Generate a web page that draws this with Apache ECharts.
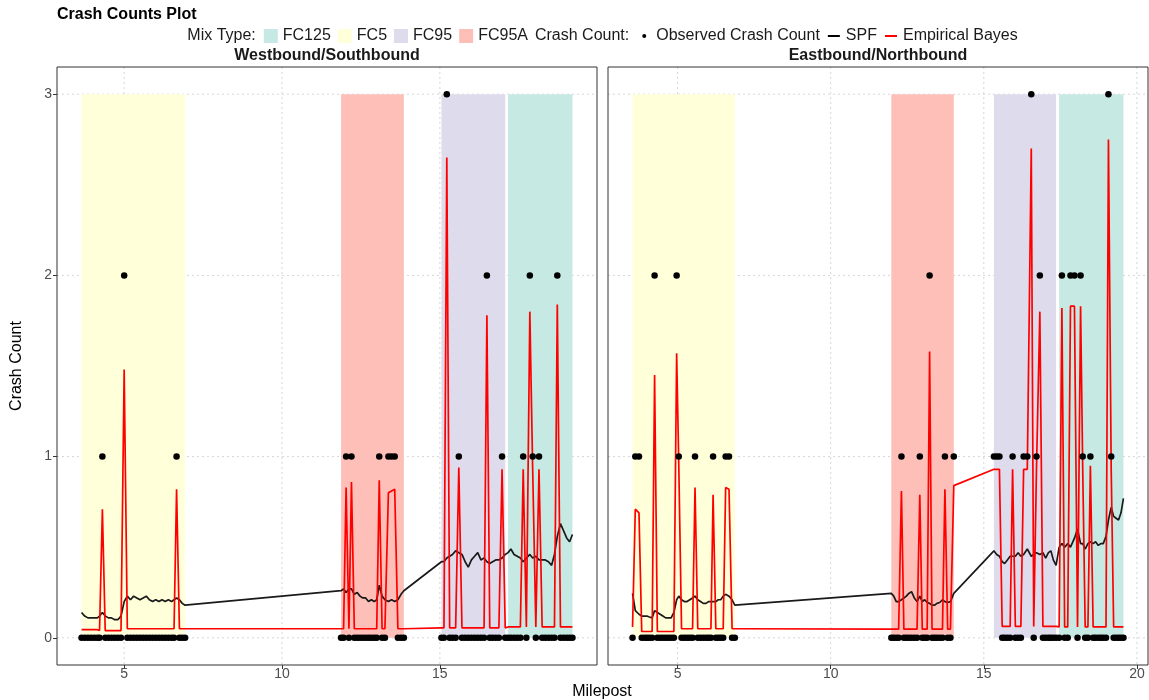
<!DOCTYPE html>
<html>
<head>
<meta charset="utf-8">
<script src="https://cdn.jsdelivr.net/npm/echarts@6/dist/echarts.min.js"></script>
<style>
  html, body { margin: 0; padding: 0; background: #ffffff; }
  #chart { width: 1149px; height: 700px; }
</style>
</head>
<body>
<div id="chart"></div>
<script>
// ---------- Westbound/Southbound ----------
const milepostWB = [
  3.65, 3.75, 3.85, 3.95, 4.05, 4.15, 4.22, 4.31, 4.40, 4.50, 4.60, 4.70, 4.80, 4.90, 5.00, 5.10, 5.20, 5.30,
  5.40, 5.50, 5.60, 5.70, 5.80, 5.90, 6.00, 6.10, 6.20, 6.30, 6.40, 6.50, 6.58, 6.66, 6.75, 6.84, 6.93,
  11.87, 11.95, 12.03, 12.12, 12.20, 12.29, 12.38, 12.47, 12.56, 12.65, 12.74, 12.83, 12.92, 13.00, 13.08,
  13.17, 13.26, 13.37, 13.47, 13.57, 13.67, 13.77, 13.86,
  15.05, 15.13, 15.22, 15.31, 15.40, 15.50, 15.60, 15.70, 15.80, 15.90, 16.00, 16.10, 16.20, 16.30, 16.40,
  16.49, 16.58, 16.67, 16.77, 16.87, 16.97, 17.07,
  17.16, 17.25, 17.35, 17.45, 17.55, 17.64, 17.74, 17.85, 17.94, 18.04, 18.14, 18.24, 18.34, 18.44, 18.54,
  18.63, 18.72, 18.82, 18.92, 19.02, 19.11, 19.20
];
const observedWB = [
  0, 0, 0, 0, 0, 0, 0, 1, 0, 0, 0, 0, 0, 0, 2, 0, 0, 0,
  0, 0, 0, 0, 0, 0, 0, 0, 0, 0, 0, 0, 0, 1, 0, 0, 0,
  0, 0, 1, 0, 1, 0, 0, 0, 0, 0, 0, 0, 0, 0, 1,
  0, 0, 1, 1, 1, 0, 0, 0,
  0, 0, 3, 0, 0, 0, 1, 0, 0, 0, 0, 0, 0, 0, 0,
  2, 0, 0, 0, 0, 1, 0,
  0, 0, 0, 0, 0, 1, 0, 2, 1, 0, 1, 0, 0, 0, 0,
  0, 2, 0, 0, 0, 0, 0
];
const spfWB = [
  0.14, 0.12, 0.11, 0.11, 0.11, 0.11, 0.12, 0.14, 0.12, 0.11, 0.11, 0.10, 0.10, 0.12, 0.20, 0.23, 0.21, 0.23,
  0.22, 0.21, 0.22, 0.23, 0.21, 0.20, 0.21, 0.20, 0.21, 0.20, 0.21, 0.20, 0.21, 0.22, 0.21, 0.19, 0.18,
  0.26, 0.27, 0.25, 0.27, 0.27, 0.24, 0.25, 0.23, 0.22, 0.22, 0.20, 0.21, 0.20, 0.21, 0.29,
  0.23, 0.21, 0.20, 0.21, 0.20, 0.21, 0.24, 0.26,
  0.42, 0.42, 0.44, 0.45, 0.46, 0.48, 0.47, 0.46, 0.42, 0.39, 0.43, 0.45, 0.47, 0.43, 0.44,
  0.42, 0.41, 0.42, 0.43, 0.43, 0.44, 0.46,
  0.47, 0.49, 0.46, 0.45, 0.44, 0.42, 0.44, 0.46, 0.44, 0.45, 0.43, 0.43, 0.43, 0.42, 0.40,
  0.46, 0.56, 0.63, 0.59, 0.55, 0.53, 0.57
];
const ebWB = [
  0.045, 0.045, 0.045, 0.045, 0.045, 0.045, 0.04, 0.71, 0.04, 0.04, 0.04, 0.04, 0.04, 0.04, 1.48, 0.05, 0.05, 0.05,
  0.05, 0.05, 0.05, 0.05, 0.05, 0.05, 0.05, 0.05, 0.05, 0.05, 0.05, 0.05, 0.05, 0.82, 0.05, 0.05, 0.05,
  0.05, 0.05, 0.83, 0.05, 0.86, 0.05, 0.05, 0.05, 0.05, 0.05, 0.05, 0.05, 0.05, 0.05, 0.87,
  0.05, 0.05, 0.80, 0.81, 0.82, 0.05, 0.05, 0.05,
  0.055, 0.055, 2.65, 0.055, 0.055, 0.055, 0.94, 0.055, 0.055, 0.055, 0.055, 0.055, 0.055, 0.055, 0.055,
  1.78, 0.055, 0.055, 0.055, 0.055, 0.93, 0.055,
  0.06, 0.06, 0.06, 0.06, 0.06, 0.93, 0.06, 1.80, 0.93, 0.06, 0.93, 0.06, 0.06, 0.06, 0.06,
  0.06, 1.84, 0.06, 0.06, 0.06, 0.06, 0.06
];
const mixTypeWB = ['FC5', 'FC95A', 'FC95', 'FC125'];
const mixFromWB = [3.65, 11.87, 15.05, 17.16];
const mixToWB = [6.93, 13.86, 17.07, 19.20];

// ---------- Eastbound/Northbound ----------
const milepostEB = [
  3.53, 3.62, 3.74, 3.83, 3.92, 4.00, 4.08, 4.17, 4.25, 4.34, 4.43, 4.52, 4.61, 4.70, 4.79, 4.88, 4.97, 5.04,
  5.13, 5.22, 5.31, 5.40, 5.49, 5.57, 5.66, 5.75, 5.84, 5.93, 6.01, 6.09, 6.16, 6.25, 6.33, 6.41, 6.49, 6.57,
  6.68, 6.78, 6.87,
  11.98, 12.06, 12.14, 12.22, 12.31, 12.39, 12.47, 12.55, 12.64, 12.73, 12.82, 12.91, 12.99, 13.07, 13.15,
  13.23, 13.31, 13.39, 13.47, 13.56, 13.65, 13.73, 13.82, 13.91, 14.02,
  15.33, 15.42, 15.51, 15.60, 15.68, 15.77, 15.86, 15.94, 16.03, 16.12, 16.21, 16.30, 16.42, 16.55, 16.63,
  16.72, 16.83, 16.93, 17.02, 17.11, 17.19, 17.27, 17.36,
  17.46, 17.55, 17.64, 17.74, 17.83, 17.96, 18.06, 18.16, 18.23, 18.31, 18.40, 18.48, 18.57, 18.65, 18.74,
  18.82, 18.90, 18.99, 19.07, 19.16, 19.24, 19.32, 19.40, 19.48, 19.56
];
const observedEB = [
  0, 1, 1, 0, 0, 0, 0, 0, 2, 0, 0, 0, 0, 0, 0, 0, 2, 1,
  0, 0, 0, 0, 0, 1, 0, 0, 0, 0, 0, 0, 1, 0, 0, 0, 0, 1,
  1, 0, 0,
  0, 0, 0, 0, 1, 0, 0, 0, 0, 0, 0, 1, 0, 0, 0,
  2, 0, 0, 0, 0, 0, 1, 0, 0, 1,
  1, 1, 1, 0, 0, 0, 0, 1, 0, 0, 0, 1, 1, 3, 0,
  1, 2, 0, 0, 0, 0, 0, 0,
  0, 2, 0, 0, 2, 2, 0, 2, 1, 0, 0, 1, 0, 0, 0,
  0, 0, 0, 3, 1, 0, 0, 0, 0, 0
];
const spfEB = [
  0.245, 0.15, 0.13, 0.12, 0.12, 0.12, 0.115, 0.11, 0.15, 0.14, 0.13, 0.12, 0.11, 0.11, 0.11, 0.14, 0.21, 0.23,
  0.21, 0.20, 0.20, 0.21, 0.22, 0.23, 0.21, 0.20, 0.19, 0.19, 0.20, 0.20, 0.20, 0.20, 0.21, 0.21, 0.23, 0.24,
  0.23, 0.21, 0.18,
  0.245, 0.23, 0.20, 0.20, 0.21, 0.22, 0.23, 0.245, 0.255, 0.22, 0.20, 0.23, 0.20, 0.21, 0.195,
  0.19, 0.18, 0.18, 0.19, 0.195, 0.21, 0.20, 0.195, 0.20, 0.245,
  0.48, 0.46, 0.45, 0.42, 0.41, 0.43, 0.45, 0.45, 0.45, 0.47, 0.45, 0.46, 0.49, 0.45, 0.46,
  0.47, 0.46, 0.47, 0.44, 0.47, 0.48, 0.43, 0.40,
  0.50, 0.52, 0.50, 0.52, 0.50, 0.55, 0.60, 0.52, 0.52, 0.49, 0.52, 0.53, 0.52, 0.53, 0.51,
  0.52, 0.52, 0.56, 0.65, 0.72, 0.67, 0.66, 0.65, 0.69, 0.77
];
const ebEB = [
  0.06, 0.71, 0.69, 0.035, 0.035, 0.035, 0.035, 0.035, 1.45, 0.035, 0.035, 0.035, 0.035, 0.035, 0.035, 0.035, 1.57, 0.95,
  0.05, 0.05, 0.05, 0.05, 0.05, 0.83, 0.05, 0.05, 0.05, 0.05, 0.05, 0.05, 0.79, 0.05, 0.05, 0.05, 0.05, 0.83,
  0.82, 0.05, 0.05,
  0.048, 0.048, 0.048, 0.048, 0.81, 0.048, 0.048, 0.048, 0.048, 0.048, 0.048, 0.79, 0.048, 0.048, 0.048,
  1.58, 0.048, 0.048, 0.048, 0.048, 0.048, 0.82, 0.048, 0.048, 0.84,
  0.93, 0.93, 0.93, 0.063, 0.063, 0.063, 0.063, 0.93, 0.063, 0.063, 0.063, 0.93, 0.93, 2.70, 0.063,
  0.93, 1.80, 0.063, 0.063, 0.063, 0.063, 0.063, 0.063,
  0.06, 1.82, 0.06, 0.06, 1.83, 1.83, 0.06, 1.83, 0.93, 0.06, 0.06, 0.95, 0.06, 0.06, 0.06,
  0.06, 0.06, 0.06, 2.75, 0.93, 0.06, 0.06, 0.06, 0.06, 0.06
];
const mixTypeEB = ['FC5', 'FC95A', 'FC95', 'FC125'];
const mixFromEB = [3.53, 11.98, 15.33, 17.46];
const mixToEB = [6.87, 14.02, 17.36, 19.56];

// ---------- Axis breaks and labels ----------
const yBreaks = [0, 1, 2, 3];
const xBreaksWB = [5, 10, 15];
const xBreaksEB = [5, 10, 15, 20];
const panelTitles = ['Westbound/Southbound', 'Eastbound/Northbound'];
const mixLegend = ['FC125', 'FC5', 'FC95', 'FC95A'];
const countLegend = ['Observed Crash Count', 'SPF', 'Empirical Bayes'];

// ---------- Styling ----------
const FONT = "'Liberation Sans', Arial, Helvetica, sans-serif";
const mixColors = { FC125: '#c6e9e3', FC5: '#ffffd9', FC95: '#dedcec', FC95A: '#fdbfb8' };
const SPF_COLOR = '#1a1a1a';
const EB_COLOR = '#ff0000';
const GRID_COLOR = '#d6d6d6';

// Panel geometry
const panels = [
  { left: 57, top: 67, width: 540, height: 598 },
  { left: 608, top: 67, width: 540, height: 598 }
];

function pairs(xs, ys) { return xs.map((x, i) => [x, ys[i]]); }
function pad(lo, hi) { const d = (hi - lo) * 0.05; return [lo - d, hi + d]; }

const rangeWB = pad(Math.min(...milepostWB), Math.max(...milepostWB));
const rangeEB = pad(Math.min(...milepostEB), Math.max(...milepostEB));
const yRange = pad(0, 3);

function xAxisFor(idx, range, breaks) {
  return {
    type: 'value', gridIndex: idx, min: range[0], max: range[1],
    axisLine: { show: false, onZero: false },
    axisTick: { show: true, customValues: breaks, length: 4, lineStyle: { color: '#333333', width: 1 } },
    axisLabel: { customValues: breaks, color: '#4d4d4d', fontSize: 14, fontFamily: FONT, margin: 2 },
    splitLine: { show: false }
  };
}
function yAxisFor(idx, showLabels) {
  return {
    type: 'value', gridIndex: idx, min: yRange[0], max: yRange[1],
    axisLine: { show: false, onZero: false },
    axisTick: { show: showLabels, customValues: yBreaks, length: 4, lineStyle: { color: '#333333', width: 1 } },
    axisLabel: { show: showLabels, customValues: yBreaks, color: '#4d4d4d', fontSize: 14, fontFamily: FONT, margin: 5 },
    splitLine: { show: false }
  };
}

// Dotted grid lines, placed through the axes' own scales, kept underneath every mark
function gridLineSeries(idx, xBreaks) {
  const rows = xBreaks.map(v => [0, v]).concat(yBreaks.map(v => [1, v]));
  return {
    type: 'custom', xAxisIndex: idx, yAxisIndex: idx, z: 0, silent: true, clip: true,
    data: rows,
    renderItem: function (params, api) {
      const isY = api.value(0) === 1;
      const v = api.value(1);
      const cs = params.coordSys;
      let a, b;
      if (isY) {
        const y = api.coord([0, v])[1];
        a = [cs.x, y]; b = [cs.x + cs.width, y];
      } else {
        const x = api.coord([v, 0])[0];
        a = [x, cs.y]; b = [x, cs.y + cs.height];
      }
      return {
        type: 'line',
        shape: { x1: a[0], y1: a[1], x2: b[0], y2: b[1] },
        style: { stroke: GRID_COLOR, lineWidth: 1, lineDash: [2, 3] }
      };
    }
  };
}

// Mix-type shaded bands
function bandSeries(idx, types, from, to) {
  const rows = types.map((t, i) => [from[i], to[i], t]);
  return {
    type: 'custom', xAxisIndex: idx, yAxisIndex: idx, z: 1, silent: true,
    data: rows,
    renderItem: function (params, api) {
      const p0 = api.coord([api.value(0), 3]);
      const p1 = api.coord([api.value(1), 0]);
      const t = rows[params.dataIndex][2];
      return {
        type: 'rect',
        shape: { x: p0[0], y: p0[1], width: p1[0] - p0[0], height: p1[1] - p0[1] },
        style: { fill: mixColors[t] }
      };
    }
  };
}

function lineSeries(idx, name, xs, ys, color) {
  return {
    type: 'line', name: name, xAxisIndex: idx, yAxisIndex: idx, z: 3,
    data: pairs(xs, ys), symbol: 'none', showSymbol: false, smooth: false,
    lineStyle: { color: color, width: 1.7 }, itemStyle: { color: color }, animation: false
  };
}

function pointSeries(idx, xs, ys) {
  return {
    type: 'scatter', name: 'Observed Crash Count', xAxisIndex: idx, yAxisIndex: idx, z: 4,
    data: pairs(xs, ys), symbol: 'circle', symbolSize: 6.5,
    itemStyle: { color: '#000000', borderWidth: 0, opacity: 1 },
    emphasis: { disabled: true }, animation: false
  };
}

// ---------- Legend (laid out from measured text widths, centred on the plot area) ----------
const measureCtx = document.createElement('canvas').getContext('2d');
function textWidth(s, size, weight) {
  measureCtx.font = (weight || 'normal') + ' ' + size + 'px ' + FONT;
  return measureCtx.measureText(s).width;
}
const LEG_SIZE = 16;
const LEG_Y = 36;
const KEY_W = 14, KEY_GAP = 5, ITEM_GAP = 7, TITLE_GAP = 8;
function legendWidth() {
  let w = textWidth('Mix Type:', LEG_SIZE) + TITLE_GAP;
  mixLegend.forEach(t => { w += KEY_W + KEY_GAP + textWidth(t, LEG_SIZE) + ITEM_GAP; });
  w += textWidth('Crash Count:', LEG_SIZE) + TITLE_GAP;
  countLegend.forEach((t, i) => { w += KEY_W + KEY_GAP + textWidth(t, LEG_SIZE) + (i < countLegend.length - 1 ? ITEM_GAP : 0); });
  return w;
}
const legendElems = [];
let lx = 602.5 - legendWidth() / 2;
function legText(s) {
  legendElems.push({ type: 'text', x: lx, y: LEG_Y, style: { text: s, font: LEG_SIZE + 'px ' + FONT, fill: '#1a1a1a', textVerticalAlign: 'middle' } });
  lx += textWidth(s, LEG_SIZE);
}
legText('Mix Type:');
lx += TITLE_GAP;
mixLegend.forEach(t => {
  legendElems.push({ type: 'rect', shape: { x: lx, y: LEG_Y - 7, width: KEY_W, height: 14 }, style: { fill: mixColors[t] } });
  lx += KEY_W + KEY_GAP;
  legText(t);
  lx += ITEM_GAP;
});
legText('Crash Count:');
lx += TITLE_GAP;
countLegend.forEach((t, i) => {
  if (i === 0) {
    legendElems.push({ type: 'circle', shape: { cx: lx + 7, cy: LEG_Y, r: 2 }, style: { fill: '#000' } });
  } else {
    legendElems.push({ type: 'line', shape: { x1: lx + 1, y1: LEG_Y, x2: lx + 13, y2: LEG_Y }, style: { stroke: i === 1 ? '#000' : EB_COLOR, lineWidth: 2 } });
  }
  lx += KEY_W + KEY_GAP;
  legText(t);
  lx += ITEM_GAP;
});

const graphics = [
  { type: 'text', x: 57, y: 15, style: { text: 'Crash Counts Plot', font: 'bold 16px ' + FONT, fill: '#000', textVerticalAlign: 'middle' } },
  ...legendElems,
  { type: 'text', x: panels[0].left + panels[0].width / 2, y: 56, style: { text: panelTitles[0], font: 'bold 16px ' + FONT, fill: '#1a1a1a', textAlign: 'center', textVerticalAlign: 'middle' } },
  { type: 'text', x: panels[1].left + panels[1].width / 2, y: 56, style: { text: panelTitles[1], font: 'bold 16px ' + FONT, fill: '#1a1a1a', textAlign: 'center', textVerticalAlign: 'middle' } },
  { type: 'text', x: 602, y: 692, style: { text: 'Milepost', font: '16px ' + FONT, fill: '#000', textAlign: 'center', textVerticalAlign: 'middle' } },
  { type: 'text', x: 17, y: 366, rotation: Math.PI / 2, style: { text: 'Crash Count', font: '16px ' + FONT, fill: '#000', textAlign: 'center', textVerticalAlign: 'middle' } }
];

const chart = echarts.init(document.getElementById('chart'), null, { renderer: 'canvas' });
chart.setOption({
  backgroundColor: '#ffffff',
  animation: false,
  grid: panels.map(p => ({ left: p.left, top: p.top, width: p.width, height: p.height, show: true, borderColor: '#333333', borderWidth: 1, backgroundColor: 'transparent', z: 5 })),
  xAxis: [xAxisFor(0, rangeWB, xBreaksWB), xAxisFor(1, rangeEB, xBreaksEB)],
  yAxis: [yAxisFor(0, true), yAxisFor(1, false)],
  series: [
    gridLineSeries(0, xBreaksWB),
    gridLineSeries(1, xBreaksEB),
    bandSeries(0, mixTypeWB, mixFromWB, mixToWB),
    bandSeries(1, mixTypeEB, mixFromEB, mixToEB),
    lineSeries(0, 'SPF', milepostWB, spfWB, SPF_COLOR),
    lineSeries(1, 'SPF', milepostEB, spfEB, SPF_COLOR),
    lineSeries(0, 'Empirical Bayes', milepostWB, ebWB, EB_COLOR),
    lineSeries(1, 'Empirical Bayes', milepostEB, ebEB, EB_COLOR),
    pointSeries(0, milepostWB, observedWB),
    pointSeries(1, milepostEB, observedEB)
  ],
  graphic: graphics
});
</script>
</body>
</html>
